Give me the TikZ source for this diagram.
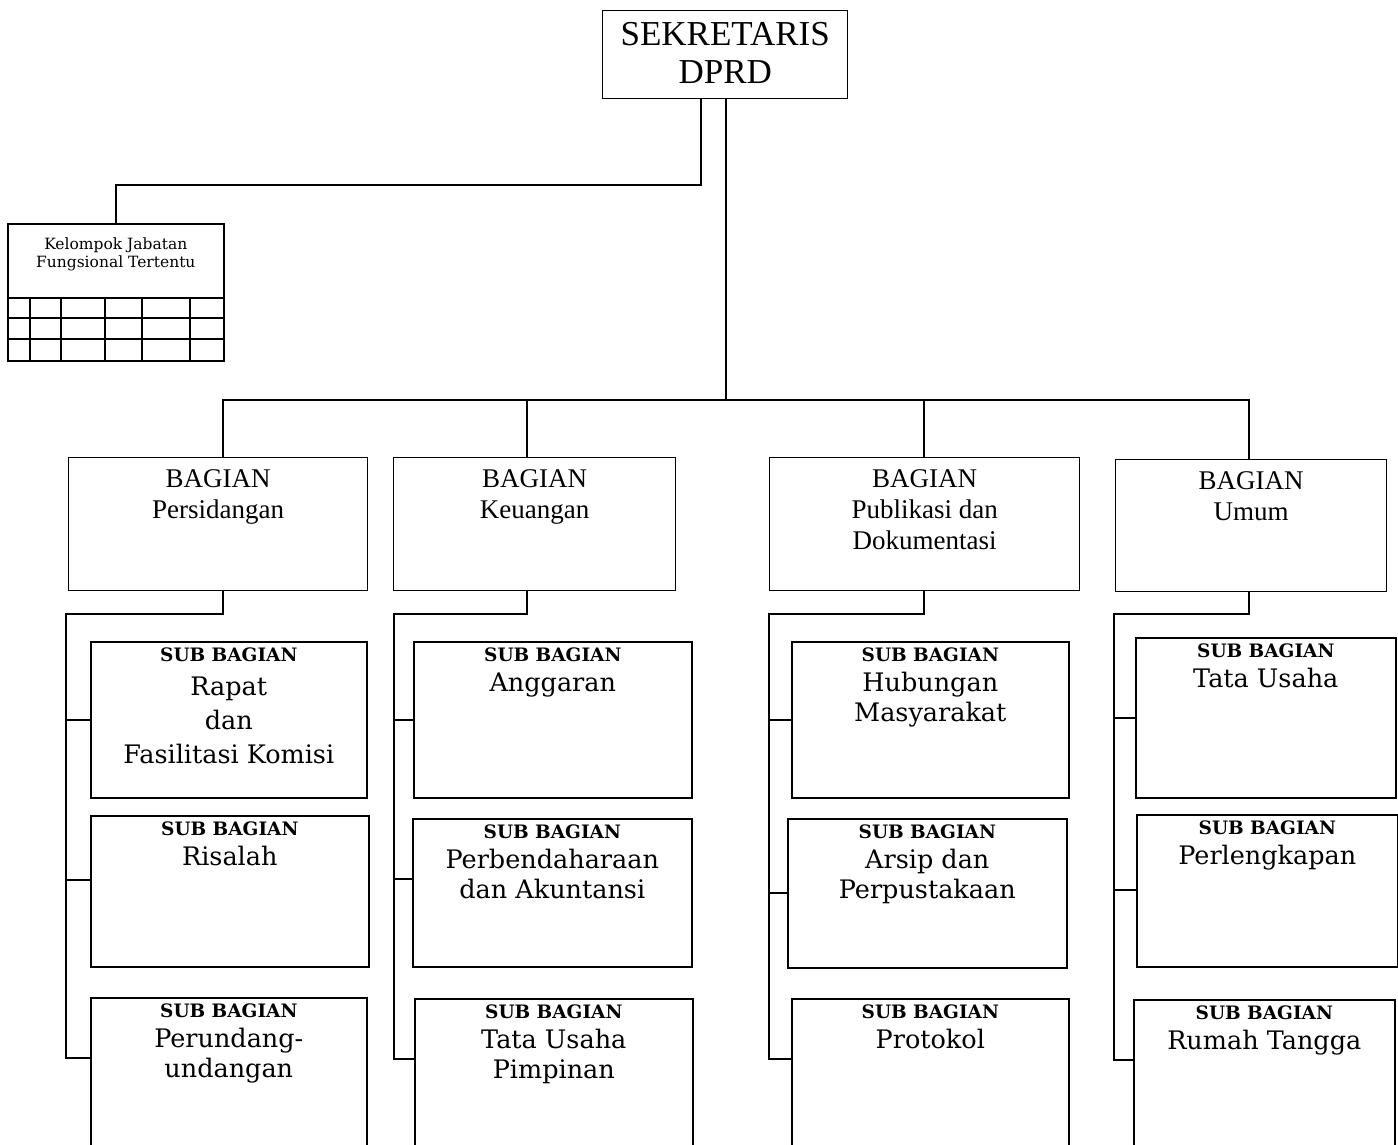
\documentclass[tikz,border=0pt]{standalone}
\usepackage{fontspec}
\setmainfont{DejaVu Serif}
\newfontfamily\tmsfont{Liberation Serif}
\usetikzlibrary{positioning}

\begin{document}
\begin{tikzpicture}[x=1pt, y=-1pt,
  box/.style={draw, line width=1.6pt, anchor=north west, inner sep=0pt},
  bag/.style={box, line width=1.4pt, minimum height=133pt},
  subbox/.style={box, minimum width=277pt, minimum height=152pt},
  head/.style={font=\tmsfont\fontsize{27}{31}\selectfont, align=center, inner sep=0pt},
  subtxt/.style={font=\fontsize{25.5}{30}\selectfont, align=center, inner sep=0pt},
  link/.style={line width=1.6pt}]
\useasboundingbox (0,0) rectangle (1398,1144);
\clip (0,0) rectangle (1398,1144);
\newcommand{\subhd}{{\bfseries\fontsize{18.5}{30}\selectfont SUB BAGIAN}}

% pimpinan
\node[box, line width=1.4pt, minimum width=245pt, minimum height=88pt] (sekr) at (602,10) {};
\node[font=\tmsfont\fontsize{35}{38}\selectfont, align=center, inner sep=0pt, below=12pt of sekr.north] {SEKRETARIS\\DPRD};

% kelompok jabatan fungsional
\node[box, minimum width=216pt, minimum height=137pt] (kel) at (7,223) {};
\node[font=\fontsize{15.5}{18}\selectfont, align=center, inner sep=0pt, below=15pt of kel.north] {Kelompok Jabatan\\Fungsional Tertentu};
\foreach \y in {298,318,339}
  \draw[link] (kel.west |- 0,\y) -- (kel.east |- 0,\y);
\foreach \x in {30,61,105,142,190}
  \draw[link] (\x,298) -- (\x,360);

% bagian
\node[bag, minimum width=299pt] (persid) at (68,457) {};
\node[head, below=12pt of persid.north] {BAGIAN\\Persidangan};
\node[bag, minimum width=282pt] (keu) at (393,457) {};
\node[head, below=12pt of keu.north] {BAGIAN\\Keuangan};
\node[bag, minimum width=310pt] (publ) at (769,457) {};
\node[head, below=12pt of publ.north] {BAGIAN\\Publikasi dan\\Dokumentasi};
\node[bag, minimum width=271pt, minimum height=132pt] (umum) at (1115,459) {};
\node[head, below=12pt of umum.north] {BAGIAN\\Umum};

% sub bagian
\node[subbox, minimum width=276pt, minimum height=156pt] (persid-1) at (90,641) {};
\node[subtxt, font=\fontsize{25.5}{34}\selectfont, below=7pt of persid-1.north] {\subhd\\Rapat\\dan\\Fasilitasi Komisi};
\node[subbox, minimum width=278pt, minimum height=151pt] (persid-2) at (90,815) {};
\node[subtxt, below=7pt of persid-2.north] {\subhd\\Risalah};
\node[subbox, minimum width=276pt, minimum height=200pt] (persid-3) at (90,997) {};
\node[subtxt, below=7pt of persid-3.north] {\subhd\\Perundang-\\undangan};

\node[subbox, minimum width=278pt, minimum height=156pt] (keu-1) at (413,641) {};
\node[subtxt, below=7pt of keu-1.north] {\subhd\\Anggaran};
\node[subbox, minimum width=279pt, minimum height=148pt] (keu-2) at (412,818) {};
\node[subtxt, below=7pt of keu-2.north] {\subhd\\Perbendaharaan\\dan Akuntansi};
\node[subbox, minimum width=278pt, minimum height=200pt] (keu-3) at (414,998) {};
\node[subtxt, below=7pt of keu-3.north] {\subhd\\Tata Usaha\\Pimpinan};

\node[subbox, minimum height=156pt] (publ-1) at (791,641) {};
\node[subtxt, below=7pt of publ-1.north] {\subhd\\Hubungan\\Masyarakat};
\node[subbox, minimum width=279pt, minimum height=149pt] (publ-2) at (787,818) {};
\node[subtxt, below=7pt of publ-2.north] {\subhd\\Arsip dan\\Perpustakaan};
\node[subbox, minimum height=200pt] (publ-3) at (791,998) {};
\node[subtxt, below=7pt of publ-3.north] {\subhd\\Protokol};

\node[subbox, minimum width=260pt, minimum height=160pt] (umum-1) at (1135,637) {};
\node[subtxt, below=7pt of umum-1.north] {\subhd\\Tata Usaha};
\node[subbox, minimum width=261pt] (umum-2) at (1136,814) {};
\node[subtxt, below=7pt of umum-2.north] {\subhd\\Perlengkapan};
\node[subbox, minimum width=261pt, minimum height=200pt] (umum-3) at (1133,999) {};
\node[subtxt, below=7pt of umum-3.north] {\subhd\\Rumah Tangga};

% garis
\coordinate (kelbend) at (701,185);
\draw[link] (sekr.south -| kelbend) -- (kelbend) -| (kel.north);
\coordinate (bus) at (726,400);
\draw[link] (sekr.south -| bus) -- (bus);
\foreach \b/\dx/\x/\t in {persid/223/66/880, keu/527/394/879, publ/924/769/893, umum/1249/1114/890} {
  \draw[link] (bus) -| (\b.north -| \dx,0);
  \coordinate (\b-bus) at (\x,614);
  \draw[link] (\b.south -| \dx,0) |- (\b-bus) |- ([yshift=-61pt]\b-3.north west);
  \draw[link] (\b-bus |- \b-1.west) -- (\b-1.west);
  \draw[link] (\b-bus |- 0,\t) -- (\b-2.west |- 0,\t);
}
\end{tikzpicture}
\end{document}
